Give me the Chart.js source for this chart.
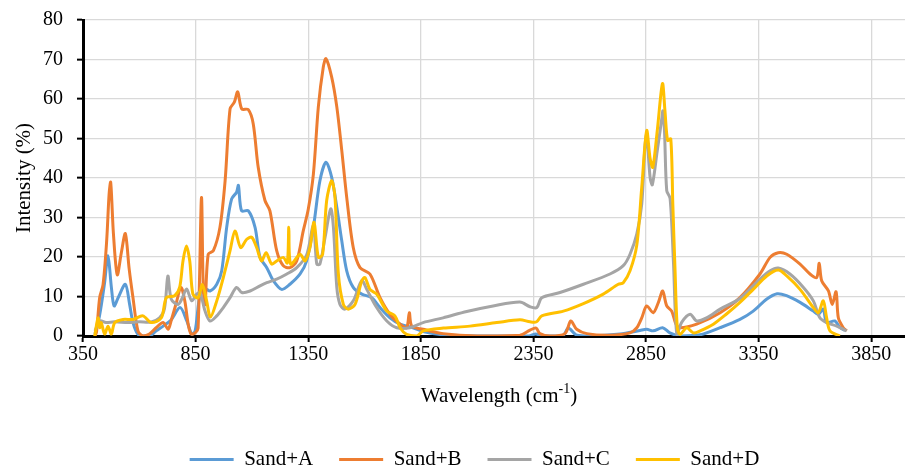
<!DOCTYPE html>
<html>
<head>
<meta charset="utf-8">
<title>Intensity vs Wavelength</title>
<script src="https://cdn.jsdelivr.net/npm/chart.js@4.4.1/dist/chart.umd.min.js"></script>
<style>
  html, body { margin: 0; padding: 0; background: #fff; }
  #wrap { width: 905px; height: 466px; }
</style>
</head>
<body>
<div id="wrap"><canvas id="ftirChart" width="905" height="466"></canvas></div>
<script>
const FONT = "'Liberation Serif', 'Times New Roman', serif";

const xTicks = [350, 850, 1350, 1850, 2350, 2850, 3350, 3850];
const seriesNames = ["Sand+A", "Sand+B", "Sand+C", "Sand+D"];
const seriesColors = ["#5B9BD5", "#ED7D31", "#A5A5A5", "#FFC000"];

// Sand+A
const waveA = [403, 423, 445, 461, 476, 488, 506, 538, 557, 572, 594, 616, 646, 675, 706, 740, 781, 811, 833, 848,
    870, 892, 914, 944, 966, 988, 1010, 1032, 1040, 1054, 1084, 1114, 1136, 1166, 1195, 1232, 1269, 1314, 1343, 1373,
    1402, 1429, 1454, 1477, 1499, 1521, 1550, 1588, 1632, 1669, 1713, 1758, 1815, 1870, 1950, 2100, 2330, 2360, 2390, 2480,
    2505, 2540, 2600, 2735, 2823, 2853, 2882, 2924, 2956, 3001, 3090, 3179, 3267, 3326, 3385, 3432, 3474, 3534, 3593, 3615,
    3637, 3652, 3689, 3712, 3734];
const sandA = [0.5, 5, 13.1, 20.3, 12.3, 7.6, 9.7, 13.1, 8, 3.4, 0.4, 0, 0, 1.3, 2.5, 4, 7.2, 3.8, 0.5, 1.3,
    10.6, 12, 11.4, 13.1, 16.5, 27.5, 34.7, 36.4, 38.1, 31.7, 31.7, 27.5, 19.9, 17.3, 14, 11.8, 13.1, 15.7, 19, 27.5,
    39.3, 44, 40.2, 32.6, 24.1, 16.5, 12.3, 10.6, 9.7, 7.2, 4.6, 3, 2.1, 1, 0.3, 0, 0, 0.5, 0, 0,
    2, 0.3, 0, 0.5, 1.4, 1.7, 1.3, 2.1, 0.8, 0, 0.3, 2.1, 4.2, 6.3, 9.3, 10.7, 10.2, 8.5, 6.3, 5.5,
    6.8, 3.4, 3.8, 2.1, 1.4];

// Sand+B
const waveB = [403, 410, 424, 439, 455, 466, 473, 485, 502, 520, 538, 555, 572, 594, 616, 645, 675, 706, 728, 741,
    763, 785, 802, 817, 830, 848, 861, 876, 884, 892, 906, 929, 958, 981, 1003, 1022, 1037, 1055, 1084, 1106,
    1128, 1158, 1180, 1210, 1239, 1269, 1299, 1328, 1350, 1373, 1395, 1417, 1429, 1454, 1477, 1499, 1521, 1550, 1580, 1624,
    1669, 1713, 1758, 1787, 1799, 1810, 1860, 1949, 2100, 2290, 2335, 2362, 2379, 2424, 2490, 2516, 2542, 2587, 2690, 2779,
    2809, 2831, 2853, 2882, 2905, 2924, 2942, 2964, 2983, 3001, 3075, 3179, 3267, 3356, 3401, 3437, 3475, 3534, 3578, 3608,
    3619, 3630, 3660, 3677, 3694, 3704, 3726, 3741];
const sandB = [0, 1, 9.7, 13, 24, 36, 38.9, 26, 15.5, 21, 25.9, 17, 9.7, 1.3, 0, 0.5, 2.1, 3.4, 1.7, 3.8,
    8.1, 12.3, 8.9, 3, 0.5, 0.8, 2, 35, 12, 8, 20.7, 21.6, 27.5, 39.3, 57.5, 59.2, 61.8, 57.5, 57.3, 53.7,
    42.7, 34.3, 31.7, 21.6, 17.8, 17.3, 19, 26.6, 32, 41, 58, 68.1, 70.2, 65.6, 58, 47, 35.1, 22.4, 17.3, 15.7,
    9.7, 5.5, 3, 2.1, 5.9, 2.5, 1.7, 0.6, 0, 0.2, 1.5, 2, 0.6, 0, 0.6, 3.8, 1.7, 0.6, 0.2, 0.8,
    2.1, 4.6, 7.6, 5.9, 8.5, 11.4, 7.6, 6.3, 3, 2.1, 3, 5.9, 9.7, 15.7, 19.9, 21.1, 20.7, 18.2, 15.7, 14.8,
    18.4, 14, 11.4, 8, 11.2, 4.6, 2.1, 1.3];

// Sand+C
const waveC = [403, 425, 452, 490, 550, 600, 650, 690, 712, 727, 742, 772, 790, 810, 833, 855, 870, 892, 914, 944,
    973, 1003, 1032, 1055, 1092, 1136, 1166, 1210, 1255, 1299, 1343, 1373, 1388, 1402, 1425, 1450, 1462, 1477, 1491, 1513,
    1550, 1588, 1610, 1654, 1699, 1743, 1802, 1860, 1949, 2054, 2171, 2290, 2335, 2365, 2387, 2468, 2572, 2690, 2749, 2779,
    2809, 2831, 2845, 2853, 2868, 2878, 2898, 2920, 2925, 2932, 2942, 2957, 2972, 2987, 3009, 3046, 3075, 3119, 3179, 3267,
    3356, 3401, 3437, 3489, 3549, 3593, 3622, 3652, 3697, 3741];
const sandC = [1.3, 3.8, 3.4, 3.6, 3.4, 3.6, 3.5, 4.6, 7, 15.2, 9.3, 8, 9.5, 11.9, 8.9, 10.6, 11, 6.3, 3.8, 5.1,
    7.2, 9.7, 12.3, 11, 11.4, 12.7, 13.5, 14.4, 15.7, 17.3, 20.5, 27.9, 18.2, 18.2, 25, 32.2, 27.5, 12.3, 8, 6.8,
    8.9, 14, 11.8, 7.2, 3.8, 2.1, 2.1, 3.4, 4.6, 6.2, 7.6, 8.6, 7.4, 7.2, 9.7, 11, 13.1, 15.7, 17.8, 20.7,
    25.8, 33.4, 47.8, 51, 40.2, 38.3, 46.1, 55, 57, 52, 36.8, 34.8, 18.5, 0.4, 3.5, 5.5, 3.8, 4.6, 6.8, 9.5,
    14.4, 16.5, 17.2, 15.7, 12.3, 8.9, 4.6, 3.4, 2.5, 1.3];

// Sand+D
const waveD = [402, 417, 424, 431, 446, 461, 476, 491, 528, 572, 616, 653, 698, 720, 757, 779, 794, 809, 824, 838,
    861, 880, 899, 916, 944, 973, 1003, 1025, 1050, 1077, 1099, 1121, 1143, 1163, 1188, 1210, 1239, 1257, 1264, 1272,
    1314, 1336, 1358, 1376, 1395, 1414, 1432, 1454, 1469, 1484, 1506, 1528, 1558, 1588, 1602, 1624, 1654, 1699, 1735, 1758,
    1787, 1832, 1861, 1950, 2068, 2187, 2290, 2335, 2364, 2387, 2483, 2572, 2660, 2727, 2749, 2779, 2809, 2831, 2853, 2868,
    2880, 2900, 2923, 2934, 2946, 2960, 2969, 2979, 2989, 3001, 3031, 3060, 3090, 3149, 3206, 3267, 3326, 3386, 3437, 3475,
    3534, 3593, 3615, 3637, 3652, 3667, 3711];
const sandD = [0, 4.6, 2.1, 3.4, 0.5, 2.5, 0.5, 3.4, 4.2, 4.2, 5.1, 3.4, 4.6, 9.7, 10.2, 12.3, 19, 22.8, 19, 10.6,
    9.7, 13, 8.9, 4.8, 8.9, 14.8, 21.6, 26.6, 22.4, 24.5, 25, 22.4, 19, 21.1, 18.2, 19, 19.9, 18.5, 27.5, 18.2,
    20.7, 19, 22.4, 28.8, 19.9, 20.7, 34.3, 39.3, 35.1, 15.7, 8, 6.8, 8, 14, 14.8, 11.8, 10.6, 6.3, 5.1, 2.1,
    0.4, 0, 1.3, 2, 2.5, 3.4, 4.1, 3.6, 3.6, 5.1, 6.3, 8.2, 10.6, 13.1, 13.5, 16.5, 23, 37.6, 52, 45,
    42.7, 52, 63.9, 57.1, 49.5, 49.9, 33.4, 16.5, 2.1, 0.4, 2.1, 0.8, 1.3, 3, 5.5, 8.5, 11.8, 15.2, 16.7, 15.2,
    11.8, 7.2, 5.9, 8.9, 4.6, 1.3, 0];

function toPoints(waves, values) {
    return waves.map((w, i) => ({ x: w, y: values[i] }));
}

const allWaves = [waveA, waveB, waveC, waveD];
const allValues = [sandA, sandB, sandC, sandD];

// x title has a superscript, so it is drawn by hand
const xTitlePlugin = {
    id: "xTitle",
    afterDraw(chart) {
        const ctx = chart.ctx;
        const area = chart.chartArea;
        const big = "21px " + FONT;
        const small = "14px " + FONT;
        const partA = "Wavelength (cm";
        const partB = "-1";
        const partC = ")";
        ctx.save();
        ctx.fillStyle = "#000";
        ctx.textBaseline = "middle";
        ctx.textAlign = "left";
        ctx.font = big;
        const wA = ctx.measureText(partA).width;
        const wC = ctx.measureText(partC).width;
        ctx.font = small;
        const wB = ctx.measureText(partB).width;
        const total = wA + wB + wC;
        let x = (area.left + area.right) / 2 + 5 - total / 2;
        const y = 396;
        ctx.font = big;
        ctx.fillText(partA, x, y);
        x += wA;
        ctx.font = small;
        ctx.fillText(partB, x, y - 7);
        x += wB;
        ctx.font = big;
        ctx.fillText(partC, x, y);
        ctx.restore();
    }
};

// move the legend down and a bit right, like the original
const legendShift = {
    id: "legendShift",
    afterLayout(chart) {
        const lg = chart.legend;
        if (!lg) return;
        lg.top += 14;
        lg.bottom += 14;
        lg.left += 22;
        lg.right += 22;
    }
};

function initializeChart() {
    const ctx = document.getElementById("ftirChart").getContext("2d");

    const datasets = seriesNames.map((name, i) => ({
        label: name,
        data: toPoints(allWaves[i], allValues[i]),
        borderColor: seriesColors[i],
        backgroundColor: seriesColors[i],
        borderWidth: 3,
        pointRadius: 0,
        pointHoverRadius: 0,
        tension: 0.3,
        fill: false,
        order: seriesNames.length - i
    }));

    return new Chart(ctx, {
        type: "line",
        data: { datasets },
        options: {
            responsive: false,
            animation: false,
            devicePixelRatio: 1,
            layout: { padding: { top: 20, left: 0, right: 0, bottom: 0 } },
            plugins: {
                tooltip: { enabled: false },
                legend: {
                    position: "bottom",
                    labels: {
                        usePointStyle: true,
                        pointStyle: "line",
                        pointStyleWidth: 44,
                        padding: 26,
                        color: "#000",
                        font: { family: FONT, size: 21 },
                        sort: (a, b) => a.datasetIndex - b.datasetIndex
                    }
                }
            },
            scales: {
                x: {
                    type: "linear",
                    min: 350,
                    max: 4000,
                    afterBuildTicks: (scale) => {
                        scale.ticks = xTicks.map(v => ({ value: v }));
                    },
                    afterFit: (scale) => { scale.height = 73; },
                    ticks: {
                        color: "#000",
                        font: { family: FONT, size: 20 },
                        padding: 1,
                        maxRotation: 0,
                        autoSkip: false,
                        callback: (v) => String(v)
                    },
                    grid: {
                        color: "#d9d9d9",
                        lineWidth: 1.3,
                        tickColor: "#000",
                        tickLength: 6,
                        tickWidth: 2
                    },
                    border: { color: "#000", width: 3 }
                },
                y: {
                    min: 0,
                    max: 80,
                    afterFit: (scale) => {
                        scale.width = 83;
                        scale.paddingTop = 0;
                        scale.paddingBottom = 0;
                    },
                    ticks: {
                        stepSize: 10,
                        color: "#000",
                        font: { family: FONT, size: 20 },
                        padding: 14
                    },
                    grid: {
                        color: "#d9d9d9",
                        lineWidth: 1.3,
                        tickColor: "#000",
                        tickLength: 6,
                        tickWidth: 2
                    },
                    border: { color: "#000", width: 3 },
                    title: {
                        display: true,
                        text: "Intensity (%)",
                        color: "#000",
                        font: { family: FONT, size: 21 },
                        padding: { top: 12, bottom: 0 }
                    }
                }
            }
        },
        plugins: [xTitlePlugin, legendShift]
    });
}

document.addEventListener("DOMContentLoaded", () => {
    initializeChart();
});
</script>
</body>
</html>
